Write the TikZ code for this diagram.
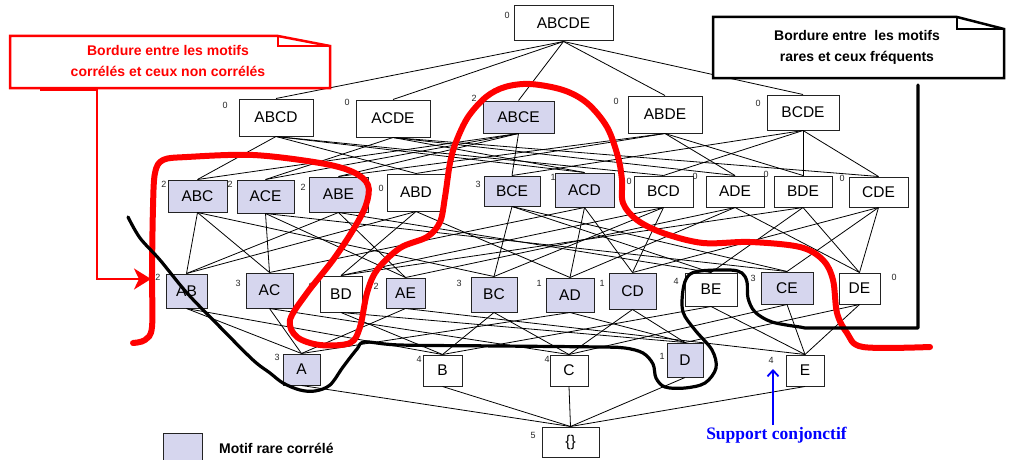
\documentclass[tikz,border=0pt]{standalone}
\usepackage{fontspec}
\setmainfont{Liberation Sans}
\newfontfamily\timesf{Liberation Serif}
\usetikzlibrary{arrows.meta}
\definecolor{lav}{RGB}{214,214,238}
\definecolor{bord}{RGB}{35,35,35}
\begin{document}
\begin{tikzpicture}[x=1pt,y=-1pt,
  box/.style={draw=bord, line width=1pt, fill=white, inner sep=0pt, font=\fontsize{15.5}{18}\selectfont},
  rare/.style={box, fill=lav},
  sz/.style 2 args={minimum width=#1pt, minimum height=#2pt},
  sup/.style={inner sep=0pt, font=\fontsize{9}{10}\selectfont, text=black!85},
  edge/.style={line width=0.8pt},
  redcurve/.style={draw=red, line width=6pt, line cap=round, line join=round},
  blackcurve/.style={draw=black, line width=3.2pt, line cap=round, line join=round},
  redcall/.style={draw=red, line width=2.5pt, fill=white, line join=miter},
  blackcall/.style={draw=black, line width=2.5pt, fill=white, line join=miter},
  calltext/.style={align=center, inner sep=0pt, font=\bfseries\fontsize{14}{21}\selectfont},
]
\useasboundingbox (0,0) rectangle (1009,460);

% ---- nodes ----
\node[box, sz={99}{35}] (ABCDE) at (563.5,23.5) {ABCDE};

\node[box, sz={74}{37}] (ABCD) at (276,117.5) {ABCD};
\node[box, sz={74}{37}] (ACDE) at (393,118.5) {ACDE};
\node[rare, sz={71}{32}] (ABCE) at (518.5,117) {ABCE};
\node[box, sz={74}{37}] (ABDE) at (665,114.5) {ABDE};
\node[box, sz={72}{35}] (BCDE) at (803,112.5) {BCDE};

\node[rare, sz={59}{32}] (ABC) at (197.5,196) {ABC};
\node[rare, sz={57}{33}] (ACE) at (265.5,196.5) {ACE};
\node[rare, sz={59}{35}] (ABE) at (338.5,194.5) {ABE};
\node[box, sz={58}{37}] (ABD) at (416,192.5) {ABD};
\node[rare, sz={56}{30}] (BCE) at (512,191) {BCE};
\node[rare, sz={59}{34}] (ACD) at (584.5,190) {ACD};
\node[box, sz={59}{31}] (BCD) at (663.5,191.5) {BCD};
\node[box, sz={58}{31}] (ADE) at (735,191.5) {ADE};
\node[box, sz={58}{31}] (BDE) at (803,191.5) {BDE};
\node[box, sz={59}{30}] (CDE) at (878.5,192) {CDE};

\node[rare, sz={41}{34}] (AB) at (186.5,291) {AB};
\node[rare, sz={47}{35}] (AC) at (269.5,290.5) {AC};
\node[box, sz={42}{36}] (BD) at (341,294) {BD};
\node[rare, sz={39}{30}] (AE) at (405.5,293) {AE};
\node[rare, sz={46}{35}] (BC) at (494,294.5) {BC};
\node[rare, sz={48}{34}] (AD) at (570,295) {AD};
\node[rare, sz={47}{36}] (CD) at (632.5,291) {CD};
\node[box, sz={52}{33}] (BE) at (711,289.5) {BE};
\node[rare, sz={52}{32}] (CE) at (787,288) {CE};
\node[box, sz={41}{31}] (DE) at (859.5,288.5) {DE};

\node[rare, sz={37}{31}] (A) at (301.5,369.5) {A};
\node[box, sz={39}{31}] (B) at (442.5,370.5) {B};
\node[box, sz={38}{31}] (C) at (569,370.5) {C};
\node[rare, sz={36}{34}] (D) at (685,360) {D};
\node[box, sz={38}{31}] (E) at (805,370.5) {E};

\node[box, sz={57}{30}] (empty) at (570.5,442) {\{\}};

% ---- supports ----
\node[sup] (sABCDE) at (507,15) {0};
\node[sup] (sABCD) at (225,105) {0};
\node[sup] (sACDE) at (347,102) {0};
\node[sup] (sABCE) at (474,98) {2};
\node[sup] (sABDE) at (616,101) {0};
\node[sup] (sBCDE) at (758,103) {0};
\node[sup] (sABC) at (164,184) {2};
\node[sup] (sACE) at (230,184) {2};
\node[sup] (sABE) at (303,187) {2};
\node[sup] (sABD) at (381,188) {0};
\node[sup] (sBCE) at (478,184) {3};
\node[sup] (sACD) at (553,177) {1};
\node[sup] (sBCD) at (629,181) {0};
\node[sup] (sADE) at (695,176) {0};
\node[sup] (sBDE) at (766,174) {0};
\node[sup] (sCDE) at (842,178) {0};
\node[sup] (sAB) at (158,277) {2};
\node[sup] (sAC) at (238,283) {3};
\node[sup] (sBD) at (311,286) {0};
\node[sup] (sAE) at (376,286) {2};
\node[sup] (sBC) at (459,283) {3};
\node[sup] (sAD) at (539,283) {1};
\node[sup] (sCD) at (602,283) {1};
\node[sup] (sBE) at (676,281) {4};
\node[sup] (sCE) at (753,278) {3};
\node[sup] (sDE) at (894,277) {0};
\node[sup] (sA) at (277,357) {3};
\node[sup] (sB) at (419,359) {4};
\node[sup] (sC) at (547,359) {4};
\node[sup] (sD) at (662,356) {1};
\node[sup] (sE) at (771,360) {4};
\node[sup] (sempty) at (533,435) {5};

% ---- edges ----
\foreach \u/\l in {ABCDE/ABCD, ABCDE/ACDE, ABCDE/ABCE, ABCDE/ABDE, ABCDE/BCDE,
  ABCD/ABC, ABCD/ABD, ABCD/ACD, ABCD/BCD, ACDE/ACD, ACDE/ACE, ACDE/ADE, ACDE/CDE,
  ABCE/ABC, ABCE/ABE, ABCE/ACE, ABCE/BCE, ABDE/ABD, ABDE/ABE, ABDE/ADE, ABDE/BDE,
  BCDE/BCD, BCDE/BCE, BCDE/BDE, BCDE/CDE,
  ABC/AB, ABC/AC, ABC/BC, ACE/AC, ACE/AE, ACE/CE, ABE/AB, ABE/AE, ABE/BE,
  ABD/AB, ABD/AD, ABD/BD, BCE/BC, BCE/BE, BCE/CE, ACD/AC, ACD/AD, ACD/CD,
  BCD/BC, BCD/BD, BCD/CD, ADE/AD, ADE/AE, ADE/DE, BDE/BD, BDE/BE, BDE/DE,
  CDE/CD, CDE/CE, CDE/DE,
  AB/A, AB/B, AC/A, AC/C, BD/B, BD/D, AE/A, AE/E, BC/B, BC/C, AD/A, AD/D,
  CD/C, CD/D, BE/B, BE/E, CE/C, CE/E, DE/D, DE/E,
  A/empty, B/empty, C/empty, D/empty, E/empty}
  \draw[edge] (\u.south) -- (\l.north);

% ---- red callout ----
\draw[redcall] (10,36) -- (278,36) -- (330,46) -- (330,88) -- (10,88) -- cycle;
\draw[draw=red, line width=2.5pt] (278,36) -- (278,46) -- (330,46);
\draw[draw=red, line width=2pt] (40,89.5) -- (97,89.5);
\node[calltext, text=red] (rtxt) at (168,61) {Bordure entre les motifs\\corrélés et ceux non corrélés};
\coordinate (rcb) at (97,89);
\coordinate (rct) at (151,279);
\draw[red, line width=2.2pt, -{Stealth[length=17pt,width=21pt,inset=5pt]}] (rcb) |- (rct);

% ---- black callout ----
\draw[blackcall] (713,17) -- (957,17) -- (1004,29) -- (1004,78) -- (713,78) -- cycle;
\draw[line width=2.5pt] (957,17) -- (957,29) -- (1004,29);
\node[calltext] (btxt) at (857,47) {Bordure entre\ \ les motifs\\rares et ceux fréquents};

% ---- red border curve ----
\draw[redcurve] plot[smooth, tension=0.55] coordinates {
 (133,343) (145,340) (152,327) (152,273) (153,207) (155,173) (163,160) (187,157)
 (253,155) (320,163) (353,172) (368,185) (366,205) (353,230) (333,260) (307,293)
 (290,320) (297,337) (320,345) (350,343) (360,327) (367,293) (377,270) (400,248)
 (427,237) (440,222) (445,197) (450,163) (456,142) (468,117) (486,97) (505,87)
 (530,84) (563,90) (587,103) (607,127) (618,157) (622,180) (623,203) (637,220)
 (663,233) (703,243) (750,242) (800,247) (823,260) (833,280) (837,313) (847,333)
 (863,347) (930,347)};

% ---- black border curve ----
\coordinate (bcb) at (918,85);
\draw[blackcurve] (bcb) -- (918,328) -- (805,328) -- plot[smooth, tension=0.55] coordinates {
 (800,327) (772,322) (755,312) (748,298) (747,282) (742,273) (730,270) (700,271)
 (688,276) (683,290) (683,312) (695,330) (712,350) (716,368) (705,383) (685,388)
 (665,387) (656,378) (653,364) (643,353) (625,348) (600,347) (500,346) (400,345)
 (365,342) (357,349) (343,367) (330,385) (315,391) (300,390) (283,383) (270,373)
 (253,360) (220,327) (187,293) (160,260) (140,238) (128,217)};

% ---- support arrow ----
\node[inner sep=0pt, text=blue, font=\timesf\bfseries\fontsize{17.5}{20}\selectfont] (sc) at (776.5,435) {Support conjonctif};
\coordinate (scb) at (773,425);
\coordinate (sct) at (773,369);
\draw[blue, line width=1.8pt, -{Straight Barb[length=6pt,width=11pt]}] (scb) -- (sct);

% ---- legend ----
\node[rare, sz={39}{29}, anchor=north west] (leg) at (163,433) {};
\node[inner sep=0pt, anchor=west, font=\bfseries\fontsize{14}{16}\selectfont] (legt) at (219,448) {Motif rare corrélé};
\end{tikzpicture}
\end{document}
